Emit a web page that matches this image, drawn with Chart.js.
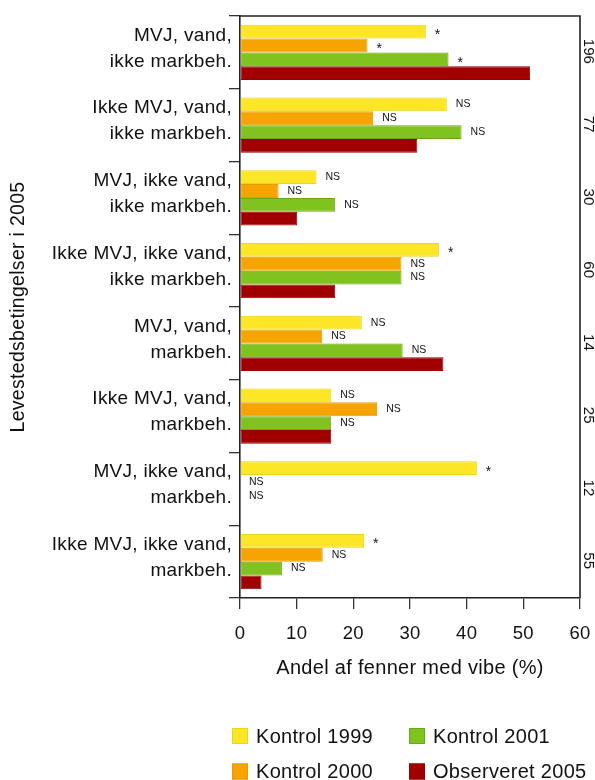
<!DOCTYPE html>
<html>
<head>
<meta charset="utf-8">
<script src="https://cdn.jsdelivr.net/npm/chart.js@4.4.1/dist/chart.umd.min.js"></script>
<style>
  html, body { margin: 0; padding: 0; background: #ffffff; }
  #wrap { width: 595px; height: 780px; }
</style>
</head>
<body>
<div id="wrap"><canvas id="chart" width="595" height="780"></canvas></div>
<script>
// Habitat classes (2005) and share of fens with lapwing per survey
const categories = [
  ['MVJ, vand,', 'ikke markbeh.'],
  ['Ikke MVJ, vand,', 'ikke markbeh.'],
  ['MVJ, ikke vand,', 'ikke markbeh.'],
  ['Ikke MVJ, ikke vand,', 'ikke markbeh.'],
  ['MVJ, vand,', 'markbeh.'],
  ['Ikke MVJ, vand,', 'markbeh.'],
  ['MVJ, ikke vand,', 'markbeh.'],
  ['Ikke MVJ, ikke vand,', 'markbeh.']
];
const seriesNames = ['Kontrol 1999', 'Kontrol 2000', 'Kontrol 2001', 'Observeret 2005'];
const kontrol1999 = [32.8, 36.5, 13.5, 35.1, 21.5, 16.1, 41.8, 21.9];
const kontrol2000 = [22.5, 23.5, 6.8, 28.5, 14.5, 24.2, 0, 14.6];
const kontrol2001 = [36.8, 39.1, 16.8, 28.5, 28.7, 16.1, 0, 7.4];
const observeret2005 = [51.2, 31.3, 10.1, 16.8, 35.9, 16.1, 0, 3.8];
// Significance of each control year against 2005
const sig1999 = ['*', 'NS', 'NS', '*', 'NS', 'NS', '*', '*'];
const sig2000 = ['*', 'NS', 'NS', 'NS', 'NS', 'NS', 'NS', 'NS'];
const sig2001 = ['*', 'NS', 'NS', 'NS', 'NS', 'NS', 'NS', 'NS'];
const sig2005 = ['', '', '', '', '', '', '', ''];
// Number of fens in each class
const sampleSizes = ['196', '77', '30', '60', '14', '25', '12', '55'];
const xTicks = [0, 10, 20, 30, 40, 50, 60];

const FONT = "'Liberation Sans', Arial, Helvetica, sans-serif";
const TEXT = '#111111';
const AXIS = '#222222';
Chart.defaults.font.family = FONT;
Chart.defaults.color = TEXT;

const fills = ['#fce625', '#f5a400', '#80c31e', '#a00000'];
const edges = ['#ecd31c', '#e89b00', '#6ca51a', '#960000'];
const seriesValues = [kontrol1999, kontrol2000, kontrol2001, observeret2005];
const seriesSig = [sig1999, sig2000, sig2001, sig2005];

const TRACKING = '0.3px';

// Slightly wider text tracking for axis texts
const tracking = {
  id: 'tracking',
  beforeUpdate(c) { c.ctx.letterSpacing = TRACKING; },
  beforeDraw(c) { c.ctx.letterSpacing = TRACKING; }
};

// Top and right edges of the plot frame
const frame = {
  id: 'frame',
  afterDraw(c) {
    const { ctx, chartArea: a } = c;
    ctx.save();
    ctx.strokeStyle = AXIS;
    ctx.lineWidth = 1.6;
    ctx.beginPath();
    ctx.moveTo(a.left, a.top);
    ctx.lineTo(a.right, a.top);
    ctx.lineTo(a.right, a.bottom);
    ctx.stroke();
    ctx.restore();
  }
};

// "*" / "NS" beside each bar
const significance = {
  id: 'significance',
  afterDatasetsDraw(c) {
    const ctx = c.ctx;
    ctx.save();
    ctx.letterSpacing = '0px';
    ctx.fillStyle = TEXT;
    ctx.textAlign = 'left';
    ctx.textBaseline = 'middle';
    c.data.datasets.forEach((ds, di) => {
      const meta = c.getDatasetMeta(di);
      meta.data.forEach((bar, i) => {
        const s = seriesSig[di][i];
        if (!s) return;
        if (s === '*') {
          ctx.font = '14px ' + FONT;
          ctx.fillText(s, bar.x + 9, bar.y + 3.6);
        } else {
          ctx.font = '10.5px ' + FONT;
          ctx.fillText(s, bar.x + 9, bar.y);
        }
      });
    });
    ctx.restore();
  }
};

// Sample sizes, rotated, right of the frame
const sampleLabels = {
  id: 'sampleLabels',
  afterDraw(c) {
    const { ctx, chartArea: a } = c;
    const y = c.scales.y;
    ctx.save();
    ctx.letterSpacing = '0px';
    ctx.fillStyle = TEXT;
    ctx.font = '15px ' + FONT;
    ctx.textAlign = 'center';
    ctx.textBaseline = 'middle';
    sampleSizes.forEach((n, i) => {
      ctx.save();
      ctx.translate(a.right + 8.5, y.getPixelForValue(i) - 1);
      ctx.rotate(Math.PI / 2);
      ctx.fillText(n, 0, 0);
      ctx.restore();
    });
    ctx.restore();
  }
};

// Two-column legend below the axis title
const legendBlock = {
  id: 'legendBlock',
  afterDraw(c) {
    const ctx = c.ctx;
    const cols = [232, 409];
    const rows = [736, 771.5];
    const box = 16;
    ctx.save();
    ctx.letterSpacing = TRACKING;
    ctx.font = '20px ' + FONT;
    ctx.textAlign = 'left';
    ctx.textBaseline = 'middle';
    c.data.datasets.forEach((ds, di) => {
      const x = cols[Math.floor(di / 2)];
      const y = rows[di % 2];
      ctx.fillStyle = ds.backgroundColor;
      ctx.fillRect(x, y - box / 2, box, box);
      ctx.strokeStyle = ds.borderColor;
      ctx.lineWidth = 1;
      ctx.strokeRect(x + 0.5, y - box / 2 + 0.5, box - 1, box - 1);
      ctx.fillStyle = TEXT;
      ctx.fillText(ds.label, x + 24, y + 1);
    });
    ctx.restore();
  }
};

new Chart(document.getElementById('chart'), {
  type: 'bar',
  data: {
    labels: categories,
    datasets: seriesNames.map((name, k) => ({
      label: name,
      data: seriesValues[k],
      backgroundColor: fills[k],
      borderColor: edges[k],
      borderWidth: 1,
      borderSkipped: false,
      categoryPercentage: 0.757,
      barPercentage: 1.0
    }))
  },
  options: {
    indexAxis: 'y',
    responsive: false,
    animation: false,
    devicePixelRatio: 1,
    layout: { padding: { top: 16, right: 15, bottom: 100, left: 0 } },
    plugins: { legend: { display: false }, tooltip: { enabled: false } },
    scales: {
      y: {
        grid: { drawOnChartArea: false, offset: true, tickLength: 11, color: '#333333', lineWidth: 1.3 },
        border: { display: true, color: AXIS, width: 1.6 },
        ticks: {
          autoSkip: false,
          color: TEXT,
          padding: -3,
          labelOffset: -4,
          font: { size: 19, lineHeight: 1.37 }
        },
        title: {
          display: true,
          text: 'Levestedsbetingelser i 2005',
          color: TEXT,
          font: { size: 19.5 },
          padding: { top: 7, bottom: 0 }
        },
        afterFit(s) { s.width = 240; s.paddingTop = 0; s.paddingBottom = 0; }
      },
      x: {
        type: 'linear',
        min: xTicks[0],
        max: xTicks[xTicks.length - 1],
        afterBuildTicks(s) { s.ticks = xTicks.map(v => ({ value: v })); },
        grid: { drawOnChartArea: false, tickLength: 11, color: '#333333', lineWidth: 1.3 },
        border: { display: true, color: AXIS, width: 1.6 },
        ticks: { color: TEXT, padding: 14, font: { size: 18.5 } },
        title: {
          display: true,
          text: 'Andel af fenner med vibe (%)',
          color: TEXT,
          font: { size: 20 },
          padding: { top: 0, bottom: 0 }
        },
        afterFit(s) { s.height = 82; s.paddingLeft = 0; s.paddingRight = 0; }
      }
    }
  },
  plugins: [tracking, frame, significance, sampleLabels, legendBlock]
});
</script>
</body>
</html>
